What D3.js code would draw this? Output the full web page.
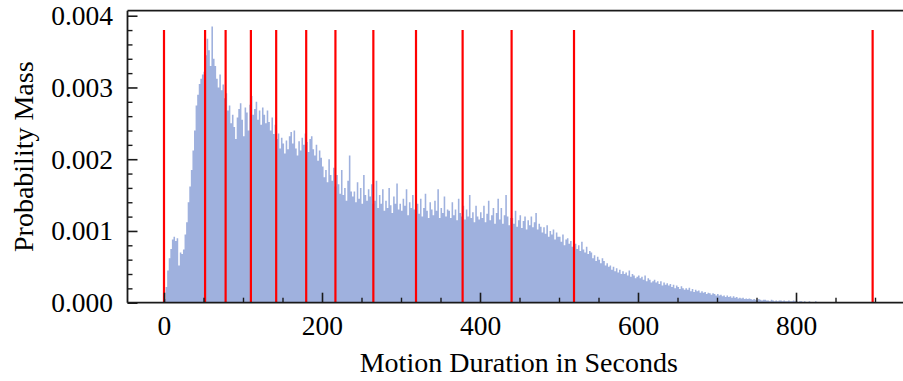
<!DOCTYPE html>
<html>
<head>
<meta charset="utf-8">
<script src="https://cdn.jsdelivr.net/npm/d3@7"></script>
<style>
  body { margin: 0; background: #fff; }
  text { font-family: "Liberation Serif", "Times New Roman", serif; fill: #000; }
</style>
</head>
<body>
<svg id="chart" width="903" height="381"></svg>
<script>
// Histogram of motion durations: 2-second bins starting at 0 s
const binWidth = 2;
const mass = [
  0.00005, 0.00022, 0.00045, 0.00062, 0.00075, 0.00088, 0.00092, 0.00086, 0.00090, 0.00052,
  0.00070, 0.00068, 0.00074, 0.00095, 0.00112, 0.00140, 0.00162, 0.00185, 0.00212, 0.00240,
  0.00275, 0.00290, 0.00305, 0.00312, 0.00318, 0.00322, 0.00345, 0.00368, 0.00352, 0.00330,
  0.00385, 0.00340, 0.00330, 0.00312, 0.00300, 0.00318, 0.00296, 0.00304, 0.00285, 0.00292,
  0.00268, 0.00275, 0.00250, 0.00262, 0.00245, 0.00228, 0.00258, 0.00270, 0.00278, 0.00255,
  0.00232, 0.00272, 0.00265, 0.00240, 0.00276, 0.00288, 0.00262, 0.00270, 0.00280, 0.00255,
  0.00268, 0.00248, 0.00272, 0.00262, 0.00250, 0.00268, 0.00252, 0.00240, 0.00258, 0.00235,
  0.00248, 0.00228, 0.00236, 0.00215, 0.00230, 0.00222, 0.00208, 0.00226, 0.00214, 0.00232,
  0.00238, 0.00222, 0.00240, 0.00215, 0.00205, 0.00225, 0.00212, 0.00230, 0.00220, 0.00236,
  0.00224, 0.00210, 0.00228, 0.00232, 0.00214, 0.00205, 0.00220, 0.00198, 0.00212, 0.00202,
  0.00190, 0.00175, 0.00185, 0.00168, 0.00200, 0.00178, 0.00170, 0.00188, 0.00162, 0.00178,
  0.00165, 0.00152, 0.00185, 0.00150, 0.00160, 0.00142, 0.00170, 0.00205, 0.00155, 0.00148,
  0.00155, 0.00140, 0.00168, 0.00145, 0.00160, 0.00138, 0.00178, 0.00150, 0.00142, 0.00158,
  0.00148, 0.00165, 0.00138, 0.00142, 0.00170, 0.00132, 0.00150, 0.00138, 0.00158, 0.00128,
  0.00142, 0.00132, 0.00160, 0.00136, 0.00125, 0.00148, 0.00138, 0.00166, 0.00130, 0.00138,
  0.00128, 0.00145, 0.00135, 0.00158, 0.00122, 0.00140, 0.00132, 0.00150, 0.00130, 0.00125,
  0.00138, 0.00124, 0.00145, 0.00120, 0.00132, 0.00152, 0.00128, 0.00118, 0.00140, 0.00130,
  0.00122, 0.00142, 0.00128, 0.00158, 0.00118, 0.00132, 0.00125, 0.00148, 0.00120, 0.00130,
  0.00128, 0.00118, 0.00140, 0.00122, 0.00130, 0.00115, 0.00145, 0.00125, 0.00120, 0.00135,
  0.00116, 0.00130, 0.00120, 0.00150, 0.00118, 0.00126, 0.00112, 0.00135, 0.00120, 0.00116,
  0.00126, 0.00118, 0.00135, 0.00112, 0.00124, 0.00142, 0.00115, 0.00122, 0.00132, 0.00110,
  0.00125, 0.00145, 0.00116, 0.00132, 0.00110, 0.00122, 0.00150, 0.00120, 0.00108, 0.00118,
  0.00118, 0.00110, 0.00128, 0.00106, 0.00115, 0.00122, 0.00104, 0.00114, 0.00120, 0.00102,
  0.00115, 0.00108, 0.00120, 0.00105, 0.00112, 0.00125, 0.00102, 0.00110, 0.00106, 0.00098,
  0.00105, 0.00096, 0.00108, 0.00092, 0.00100, 0.00095, 0.00102, 0.00088, 0.00098, 0.00092,
  0.00092, 0.00085, 0.00095, 0.00080, 0.00088, 0.00090, 0.00082, 0.00086, 0.00078, 0.00084,
  0.00082, 0.00075, 0.00080, 0.00072, 0.00085, 0.00074, 0.00070, 0.00078, 0.00068, 0.00072,
  0.00070, 0.00062, 0.00066, 0.00058, 0.00064, 0.00060, 0.00055, 0.00062, 0.00058, 0.00052,
  0.00055, 0.00050, 0.00052, 0.00046, 0.00050, 0.00044, 0.00048, 0.00042, 0.00046, 0.00040,
  0.00044, 0.00040, 0.00042, 0.00038, 0.00045, 0.00036, 0.00040, 0.00038, 0.00034, 0.00036,
  0.00038, 0.00034, 0.00036, 0.00032, 0.00038, 0.00030, 0.00034, 0.00032, 0.00028, 0.00030,
  0.00032, 0.00028, 0.00030, 0.00026, 0.00030, 0.00024, 0.00028, 0.00025, 0.00027, 0.00024,
  0.00026, 0.00022, 0.00025, 0.00020, 0.00024, 0.00022, 0.00019, 0.00023, 0.00020, 0.00018,
  0.00020, 0.00018, 0.00021, 0.00016, 0.00019, 0.00015, 0.00018, 0.00016, 0.00017, 0.00014,
  0.00016, 0.00014, 0.00015, 0.00012, 0.00014, 0.00013, 0.00011, 0.00013, 0.00012, 0.00010,
  0.00012, 0.00010, 0.00011, 0.00009, 0.00010, 0.00008, 0.00010, 0.00008, 0.00009, 0.00007,
  0.00009, 0.00007, 0.00008, 0.00006, 0.00007, 0.00006, 0.00007, 0.00005, 0.00006, 0.00005,
  0.00006, 0.00005, 0.00004, 0.00005, 0.00004, 0.00003, 0.00005, 0.00004, 0.00003, 0.00004,
  0.00004, 0.00003, 0.00003, 0.00002, 0.00004, 0.00003, 0.00002, 0.00003, 0.00002, 0.00003,
  0.00003, 0.00002, 0.00003, 0.00002, 0.00002, 0.00003, 0.00002, 0.00002, 0.00003, 0.00002,
  0.00002, 0.00001, 0.00002, 0.00002, 0.00001, 0.00002, 0.00001, 0.00001, 0.00002, 0.00001,
  0.00001, 0.00001, 0.00002, 0.00001, 0.00001, 0.00001, 0.00001, 0.00000, 0.00001, 0.00001,
  0.00001, 0.00000, 0.00001, 0.00001, 0.00000, 0.00001, 0.00000, 0.00001, 0.00000, 0.00001,
  0.00000, 0.00001, 0.00000, 0.00000, 0.00001, 0.00000, 0.00000, 0.00000, 0.00001, 0.00000
];
const binStarts = mass.map((_, i) => i * binWidth);

// Segment boundaries (seconds), drawn as red markers
const cutPoints = [0, 52, 78, 110, 142, 180, 217, 265, 319, 378, 440, 519, 897];
const cutHeight = 0.0038;

const xMajorTicks = [0, 200, 400, 600, 800];
const xMinorTicks = [50, 100, 150, 250, 300, 350, 450, 500, 550, 650, 700, 750, 850, 900];
const yMajorTicks = [0, 0.001, 0.002, 0.003, 0.004];
const yMinorTicks = [0.0002, 0.0004, 0.0006, 0.0008, 0.0012, 0.0014, 0.0016, 0.0018,
                     0.0022, 0.0024, 0.0026, 0.0028, 0.0032, 0.0034, 0.0036, 0.0038];

const xTitle = "Motion Duration in Seconds";
const yTitle = "Probability Mass";

const svg = d3.select("#chart");
const plotLeft = 127.5, plotRight = 910, plotTop = 10.7, plotBottom = 302.7;

const x = d3.scaleLinear().domain([-46.2, 944.3]).range([plotLeft, plotRight]);
const y = d3.scaleLinear().domain([0, 0.00407]).range([plotBottom, plotTop]);

// histogram as one stepped area so neighbouring bins leave no seams
const steps = binStarts.map((s, i) => ({ s, v: mass[i] }));
steps.push({ s: binStarts[binStarts.length - 1] + binWidth, v: mass[mass.length - 1] });
const area = d3.area()
  .curve(d3.curveStepAfter)
  .x(d => x(d.s))
  .y0(y(0))
  .y1(d => y(d.v));
svg.append("path")
  .datum(steps)
  .attr("d", area)
  .attr("fill", "#9fb1de");

// red segment markers
svg.append("g")
  .selectAll("line")
  .data(cutPoints)
  .join("line")
  .attr("x1", d => x(d)).attr("x2", d => x(d))
  .attr("y1", y(cutHeight)).attr("y2", y(0))
  .attr("stroke", "#ff0000")
  .attr("stroke-width", 2.2);

const axisColor = "#1a1a1a";
const tickFont = 27.5;

// x axis: inward ticks
const gx = svg.append("g").attr("transform", `translate(0,${plotBottom})`)
  .call(d3.axisBottom(x).tickValues(xMajorTicks).tickFormat(d3.format("d"))
    .tickSizeInner(-10).tickSizeOuter(0).tickPadding(13));
gx.select(".domain").remove();
gx.selectAll(".tick line").attr("stroke", axisColor).attr("stroke-width", 1.6);
gx.selectAll("text").attr("font-size", tickFont).attr("fill", "#000")
  .style("font-family", '"Liberation Serif", serif');

const gxm = svg.append("g").attr("transform", `translate(0,${plotBottom})`)
  .call(d3.axisBottom(x).tickValues(xMinorTicks).tickFormat("")
    .tickSizeInner(-5).tickSizeOuter(0));
gxm.select(".domain").remove();
gxm.selectAll(".tick line").attr("stroke", axisColor).attr("stroke-width", 1.4);

// y axis: inward ticks
const gy = svg.append("g").attr("transform", `translate(${plotLeft},0)`)
  .call(d3.axisLeft(y).tickValues(yMajorTicks).tickFormat(d3.format(".3f"))
    .tickSizeInner(-10).tickSizeOuter(0).tickPadding(14.5));
gy.select(".domain").remove();
gy.selectAll(".tick line").attr("stroke", axisColor).attr("stroke-width", 1.6);
gy.selectAll("text").attr("font-size", tickFont).attr("fill", "#000")
  .style("font-family", '"Liberation Serif", serif');

const gym = svg.append("g").attr("transform", `translate(${plotLeft},0)`)
  .call(d3.axisLeft(y).tickValues(yMinorTicks).tickFormat("")
    .tickSizeInner(-5).tickSizeOuter(0));
gym.select(".domain").remove();
gym.selectAll(".tick line").attr("stroke", axisColor).attr("stroke-width", 1.4);

// frame: left, top, bottom spines
const frame = svg.append("g").attr("stroke", axisColor).attr("stroke-width", 1.8).attr("fill", "none");
frame.append("line").attr("x1", plotLeft).attr("x2", plotLeft).attr("y1", plotTop).attr("y2", plotBottom);
frame.append("line").attr("x1", plotLeft).attr("x2", plotRight).attr("y1", plotTop).attr("y2", plotTop);
frame.append("line").attr("x1", plotLeft).attr("x2", plotRight).attr("y1", plotBottom).attr("y2", plotBottom);

// axis titles
svg.append("text")
  .attr("x", (plotLeft + plotRight) / 2).attr("y", 371.5)
  .attr("text-anchor", "middle").attr("font-size", 28)
  .text(xTitle);

svg.append("text")
  .attr("transform", `translate(33,${(plotTop + plotBottom) / 2}) rotate(-90)`)
  .attr("text-anchor", "middle").attr("font-size", 28)
  .text(yTitle);
</script>
</body>
</html>
